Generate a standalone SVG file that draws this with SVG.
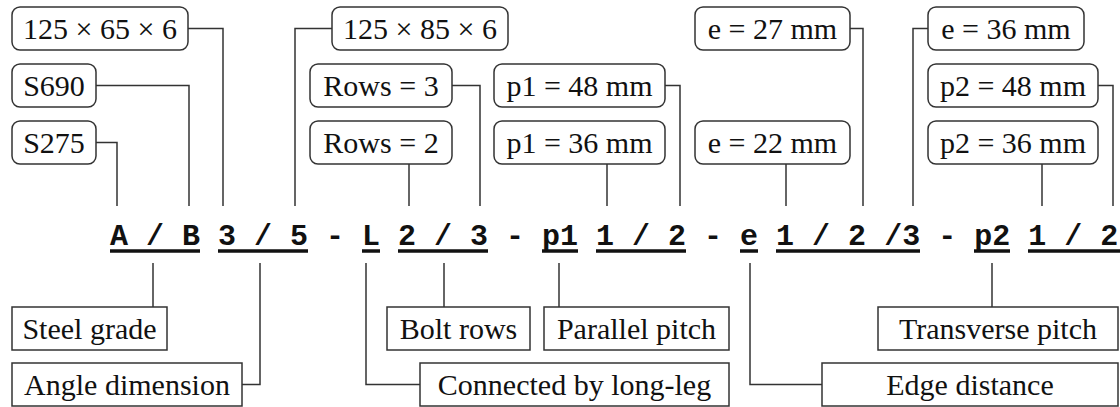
<svg xmlns="http://www.w3.org/2000/svg" width="1120" height="407" viewBox="0 0 1120 407">
<style>
.rb{fill:#fff;stroke:#333;stroke-width:1.5}
.sb{fill:#fff;stroke:#333;stroke-width:1.5}
.t{font-family:"Liberation Serif","Times New Roman",serif;font-size:30px;fill:#111;text-anchor:middle}
.code{font-family:"Liberation Mono","Courier New",monospace;font-size:30px;font-weight:bold;fill:#111}
.c{fill:none;stroke:#333;stroke-width:1.5}
.u{stroke:#111;stroke-width:3.5}
</style>
<rect width="1120" height="407" fill="#fff"/>
<g id="connectors">
<polyline class="c" points="188,28.5 223,28.5 223,206"/>
<polyline class="c" points="96,85.5 189,85.5 189,206"/>
<polyline class="c" points="96,142.5 117,142.5 117,206"/>
<polyline class="c" points="332,28.5 295,28.5 295,206"/>
<polyline class="c" points="452,85.5 480,85.5 480,206"/>
<polyline class="c" points="409,164 409,206"/>
<polyline class="c" points="665,85.5 680,85.5 680,206"/>
<polyline class="c" points="607,164 607,206"/>
<polyline class="c" points="850,28.5 863,28.5 863,206"/>
<polyline class="c" points="786,164 786,206"/>
<polyline class="c" points="928,28.5 913,28.5 913,206"/>
<polyline class="c" points="1098,85.5 1113,85.5 1113,206"/>
<polyline class="c" points="1042,164 1042,206"/>
<polyline class="c" points="153,263 153,307"/>
<polyline class="c" points="260,263 260,384.5 242,384.5"/>
<polyline class="c" points="366,263 366,384.5 420,384.5"/>
<polyline class="c" points="444,263 444,307"/>
<polyline class="c" points="559,263 559,307"/>
<polyline class="c" points="750,263 750,384.5 822,384.5"/>
<polyline class="c" points="992,263 992,307"/>
</g>
<g id="code">
<text class="code" x="110" y="245" xml:space="preserve">A / B 3 / 5 - L 2 / 3 - p1 1 / 2 - e 1 / 2 /3 - p2 1 / 2</text>
<line class="u" x1="110" y1="251" x2="200" y2="251"/>
<line class="u" x1="218" y1="251" x2="308" y2="251"/>
<line class="u" x1="362" y1="251" x2="380" y2="251"/>
<line class="u" x1="398" y1="251" x2="488" y2="251"/>
<line class="u" x1="542" y1="251" x2="578" y2="251"/>
<line class="u" x1="596" y1="251" x2="686" y2="251"/>
<line class="u" x1="740" y1="251" x2="758" y2="251"/>
<line class="u" x1="776" y1="251" x2="920" y2="251"/>
<line class="u" x1="974" y1="251" x2="1010" y2="251"/>
<line class="u" x1="1028" y1="251" x2="1120" y2="251"/>
</g>
<g id="n-125x65x6"><rect class="rb" x="12" y="7" width="176" height="43" rx="8"/><text class="t" x="100" y="38.5">125 × 65 × 6</text></g>
<g id="n-s690"><rect class="rb" x="12" y="64" width="84" height="43" rx="8"/><text class="t" x="54" y="95.5">S690</text></g>
<g id="n-s275"><rect class="rb" x="12" y="121" width="84" height="43" rx="8"/><text class="t" x="54" y="152.5">S275</text></g>
<g id="n-125x85x6"><rect class="rb" x="332" y="7" width="176" height="43" rx="8"/><text class="t" x="420" y="38.5">125 × 85 × 6</text></g>
<g id="n-rows3"><rect class="rb" x="310" y="64" width="142" height="43" rx="8"/><text class="t" x="381" y="95.5">Rows = 3</text></g>
<g id="n-rows2"><rect class="rb" x="310" y="121" width="142" height="43" rx="8"/><text class="t" x="381" y="152.5">Rows = 2</text></g>
<g id="n-p1-48"><rect class="rb" x="494" y="64" width="171" height="43" rx="8"/><text class="t" x="579.5" y="95.5">p1 = 48 mm</text></g>
<g id="n-p1-36"><rect class="rb" x="494" y="121" width="171" height="43" rx="8"/><text class="t" x="579.5" y="152.5">p1 = 36 mm</text></g>
<g id="n-e27"><rect class="rb" x="695" y="7" width="155" height="43" rx="8"/><text class="t" x="772.5" y="38.5">e = 27 mm</text></g>
<g id="n-e22"><rect class="rb" x="695" y="121" width="155" height="43" rx="8"/><text class="t" x="772.5" y="152.5">e = 22 mm</text></g>
<g id="n-e36"><rect class="rb" x="928" y="7" width="156" height="43" rx="8"/><text class="t" x="1006" y="38.5">e = 36 mm</text></g>
<g id="n-p2-48"><rect class="rb" x="928" y="64" width="170" height="43" rx="8"/><text class="t" x="1013" y="95.5">p2 = 48 mm</text></g>
<g id="n-p2-36"><rect class="rb" x="928" y="121" width="170" height="43" rx="8"/><text class="t" x="1013" y="152.5">p2 = 36 mm</text></g>
<g id="n-steel-grade"><rect class="sb" x="12" y="307" width="155" height="43"/><text class="t" x="89.5" y="338.5">Steel grade</text></g>
<g id="n-angle-dimension"><rect class="sb" x="12" y="363" width="230" height="43"/><text class="t" x="127" y="394.5">Angle dimension</text></g>
<g id="n-bolt-rows"><rect class="sb" x="387" y="307" width="143" height="43"/><text class="t" x="458.5" y="338.5">Bolt rows</text></g>
<g id="n-parallel-pitch"><rect class="sb" x="544" y="307" width="185" height="43"/><text class="t" x="636.5" y="338.5">Parallel pitch</text></g>
<g id="n-connected"><rect class="sb" x="420" y="363" width="309" height="43"/><text class="t" x="574.5" y="394.5">Connected by long-leg</text></g>
<g id="n-transverse-pitch"><rect class="sb" x="878" y="307" width="240" height="43"/><text class="t" x="998" y="338.5">Transverse pitch</text></g>
<g id="n-edge-distance"><rect class="sb" x="822" y="363" width="296" height="43"/><text class="t" x="970" y="394.5">Edge distance</text></g>
</svg>
